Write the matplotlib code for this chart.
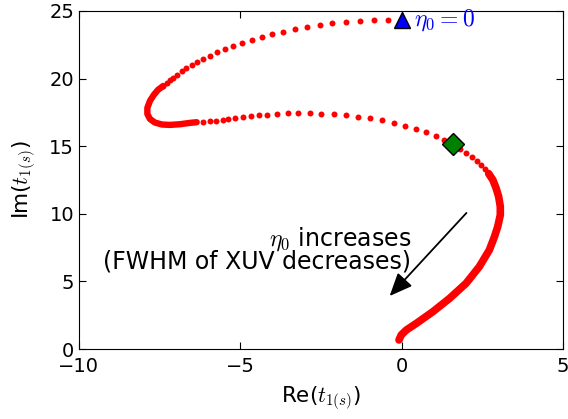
import matplotlib
matplotlib.use('Agg')
import matplotlib.pyplot as plt

plt.rcParams['mathtext.fontset'] = 'cm'
plt.rcParams['font.family'] = 'DejaVu Sans'

# t_1(s) in the complex plane while eta_0 grows from 0
# dotted stretch from eta_0 = 0 down to the left turn
upper_re = [0.00, -0.42, -0.87, -1.30, -1.72, -2.15, -2.54, -2.93, -3.31, -3.67,
            -4.02, -4.34, -4.65, -4.94, -5.22, -5.48, -5.72, -5.94, -6.15, -6.34,
            -6.51, -6.67, -6.82, -6.96, -7.08, -7.18, -7.28, -7.39]
upper_im = [24.35, 24.36, 24.33, 24.26, 24.19, 24.09, 23.94, 23.82, 23.65, 23.47,
            23.28, 23.08, 22.86, 22.63, 22.41, 22.17, 21.95, 21.69, 21.45, 21.23,
            21.01, 20.78, 20.54, 20.29, 20.07, 19.87, 19.65, 19.45]

# dense part around the left turn
bend_re = [-7.39, -7.55, -7.68, -7.80, -7.88, -7.88, -7.80, -7.65, -7.43, -7.18,
           -6.87, -6.56, -6.35]
bend_im = [19.45, 19.16, 18.79, 18.34, 17.83, 17.38, 17.01, 16.75, 16.60, 16.57,
           16.62, 16.72, 16.77]

# dotted lower branch back to the right
lower_re = [-6.15, -5.94, -5.76, -5.55, -5.38, -5.15, -4.93, -4.67, -4.43, -4.17,
            -3.85, -3.53, -3.20, -2.85, -2.49, -2.11, -1.73, -1.36, -0.98, -0.61,
            -0.24, 0.11, 0.46, 0.76, 1.06, 1.33, 1.59, 1.82, 2.00, 2.18,
            2.34, 2.47, 2.59, 2.70]
lower_im = [16.80, 16.84, 16.89, 16.94, 16.99, 17.06, 17.14, 17.21, 17.28, 17.33,
            17.38, 17.43, 17.46, 17.46, 17.40, 17.36, 17.28, 17.18, 17.06, 16.92,
            16.72, 16.52, 16.27, 16.03, 15.75, 15.46, 15.16, 14.79, 14.52, 14.20,
            13.91, 13.61, 13.29, 12.97]

# dense tail down to the real axis
tail_re = [2.70, 2.83, 2.93, 3.01, 3.06, 3.06, 2.98, 2.88, 2.72, 2.41,
           2.00, 1.49, 0.97, 0.46, 0.15, -0.01, -0.08]
tail_im = [12.97, 12.50, 11.89, 11.26, 10.53, 9.91, 9.05, 8.31, 7.32, 6.09,
           4.86, 3.75, 2.76, 1.90, 1.41, 1.04, 0.67]

start_pt = (0.0, 24.35)
mark_pt = (1.59, 15.16)

fig = plt.figure(figsize=(5.68, 4.19), dpi=100)
ax = fig.add_axes([0.139, 0.167, 0.852, 0.807])

ax.plot(upper_re, upper_im, 'o', color='red', ms=4.3, mec='none')
ax.plot(lower_re, lower_im, 'o', color='red', ms=4.3, mec='none')
ax.plot(bend_re, bend_im, '-', color='red', lw=4.6, solid_capstyle='round')
ax.plot(tail_re, tail_im, '-', color='red', lw=5.5, solid_capstyle='round')

ax.plot(*start_pt, '^', color='blue', mec='black', ms=11, mew=1)
ax.plot(*mark_pt, 'D', color=(0, 0.5, 0), mec='black', ms=11, mew=1)
ax.text(0.4, 24.3, r'$\eta_0=0$', color='blue', fontsize=17, va='center')

ax.annotate('', xy=(-0.37, 3.92), xytext=(2.01, 10.06),
            arrowprops=dict(arrowstyle='-|>,head_length=0.7,head_width=0.3',
                            color='black', lw=1.3, mutation_scale=20,
                            shrinkA=0, shrinkB=0))
ax.text(0.3, 7.62, r'$\eta_0$ increases', ha='right', va='baseline', fontsize=17)
ax.text(0.3, 5.99, '(FWHM of XUV decreases)', ha='right', va='baseline', fontsize=17)

ax.set_xlim(-10, 5)
ax.set_ylim(0, 25)
ax.set_xticks([-10, -5, 0, 5])
ax.set_yticks([0, 5, 10, 15, 20, 25])
ax.tick_params(direction='in', top=True, right=True, labelsize=14, length=5)
ax.tick_params(axis='x', pad=6)
ax.set_xlabel(r'Re($t_{1(s)}$)', fontsize=15.5, labelpad=6)
ax.set_ylabel(r'Im($t_{1(s)}$)', fontsize=15.5, labelpad=8)

fig.savefig('out.png', dpi=100)
